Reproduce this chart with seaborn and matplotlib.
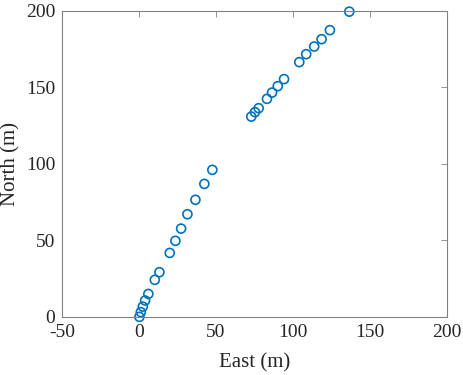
import matplotlib
matplotlib.use("Agg")
import matplotlib.pyplot as plt
import seaborn as sns
import pandas as pd

# Track positions
east = [0.2, 1.1, 2.4, 3.9, 6.0, 10.2, 13.2, 19.9, 23.6, 27.3, 31.4, 36.6, 42.4, 47.6,
        72.9, 75.3, 77.7, 83.1, 86.4, 90.1, 94.2, 104.1, 108.6, 113.8, 118.6, 124.0, 136.6]
north = [0.0, 3.1, 6.7, 10.7, 15.0, 24.2, 29.2, 41.8, 49.7, 57.7, 67.1, 76.5, 86.9, 96.1,
         130.9, 133.8, 136.4, 142.5, 146.6, 150.8, 155.4, 166.5, 171.7, 176.7, 181.5, 187.4, 199.5]
x_ticks = [-50, 0, 50, 100, 150, 200]
y_ticks = [0, 50, 100, 150, 200]

df = pd.DataFrame({"East": east, "North": north})

sns.set_theme(style="white")
plt.rcParams["font.family"] = ["Liberation Serif", "DejaVu Serif"]
plt.rcParams["axes.unicode_minus"] = False

fig = plt.figure(figsize=(4.64, 3.75), dpi=100)
ax = fig.add_axes([0.134, 0.155, 0.829, 0.816])

sns.scatterplot(data=df, x="East", y="North", ax=ax, marker="o", s=42,
                facecolor="none", edgecolor="#0072BD", linewidth=1.2, clip_on=False)

ax.set_xlim(-50, 200)
ax.set_ylim(0, 200)
ax.set_xticks(x_ticks)
ax.set_yticks(y_ticks)
ax.set_xlabel("East (m)", fontsize=15, color="#262626", labelpad=9)
ax.set_ylabel("North (m)", fontsize=15, color="#262626", labelpad=4)
ax.tick_params(direction="in", length=4, width=0.6, color="#808080", pad=5,
               labelsize=14, labelcolor="#262626", top=True, right=True)
for spine in ax.spines.values():
    spine.set_color("#808080")
    spine.set_linewidth(0.8)

fig.savefig("out.png", dpi=100)
